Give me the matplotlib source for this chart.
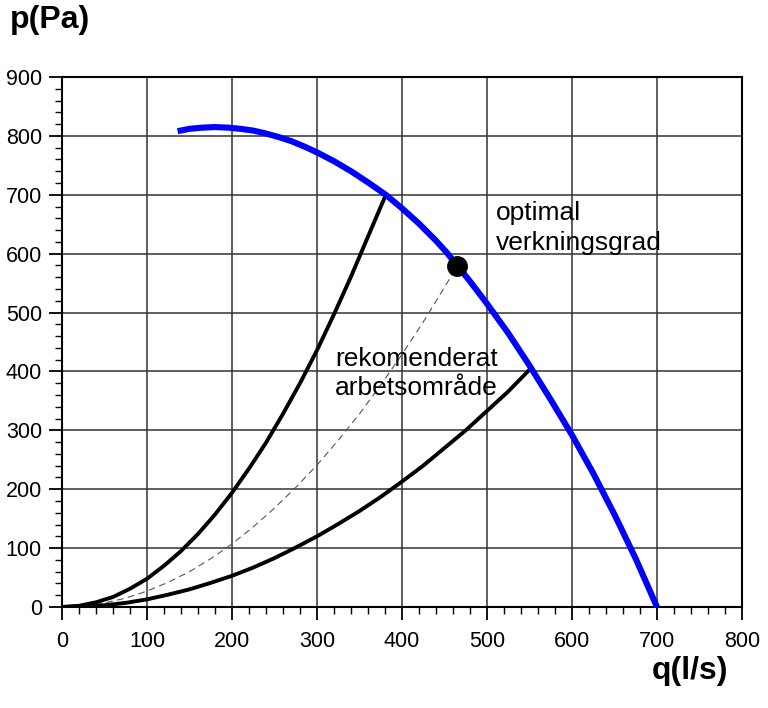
import numpy as np
from matplotlib import pyplot as plt
from matplotlib.ticker import MultipleLocator

plt.rcParams['font.family'] = ['Liberation Sans', 'DejaVu Sans']

# fan curve (blue)
fan_q = [136, 150, 165, 180, 195, 210, 225, 240, 255, 270, 285, 300, 320, 340, 360, 381,
         400, 420, 440, 452, 465, 480, 500, 525, 550, 575, 600, 625, 650, 675, 700]
fan_p = [808, 812, 814, 815, 814, 812, 809, 804, 798, 791, 782, 772, 757, 740, 721, 700,
         677, 651, 622, 603, 580, 553, 515, 465, 410, 352, 292, 227, 157, 82, 0]

# upper limit of recommended area
up_q = [0, 20, 40, 60, 80, 100, 120, 140, 160, 180, 200, 220, 240, 260, 280, 300, 320, 340, 360, 381]
up_p = [0, 2, 8, 17, 31, 48, 70, 95, 124, 157, 194, 235, 279, 328, 380, 436, 497, 561, 629, 700]

# lower limit of recommended area
low_q = [0, 25, 50, 75, 100, 125, 150, 175, 200, 225, 250, 275, 300, 325, 350, 375, 400,
         425, 450, 475, 500, 525, 550]
low_p = [0, 1, 3, 7, 13, 21, 30, 41, 53, 67, 83, 101, 120, 141, 163, 187, 213,
         240, 270, 300, 333, 366, 403]

# system curve through the optimum (dashed)
opt_q = [0, 25, 50, 75, 100, 125, 150, 175, 200, 225, 250, 275, 300, 325, 350, 375, 400, 425, 450, 465]
opt_p = [0, 2, 7, 15, 27, 42, 60, 82, 107, 136, 168, 203, 241, 283, 328, 377, 429, 484, 543, 579]

best_q, best_p = 465, 579

fig = plt.figure(figsize=(7.68, 7.08), dpi=100)
ax = fig.add_axes([62/768, 1-607/708, 680/768, 530/708])

ax.plot(opt_q, opt_p, color='#555555', lw=0.8, ls=(0, (6, 4)), zorder=3)
ax.plot(up_q, up_p, color='black', lw=2.8, zorder=4)
ax.plot(low_q, low_p, color='black', lw=2.8, zorder=4)
ax.plot(fan_q, fan_p, color='#0000ff', lw=4.4, solid_capstyle='butt', zorder=5)
ax.plot(best_q, best_p, 'o', color='black', ms=14, zorder=6)

ax.text(510, 689, 'optimal\nverkningsgrad', fontsize=19, va='top', ha='left', linespacing=1.3)
ax.text(321, 442, 'rekomenderat\narbetsområde', fontsize=19, va='top', ha='left', linespacing=1.3)

ax.set_xlim(0, 800)
ax.set_ylim(0, 900)
ax.xaxis.set_major_locator(MultipleLocator(100))
ax.xaxis.set_minor_locator(MultipleLocator(20))
ax.yaxis.set_major_locator(MultipleLocator(100))
ax.yaxis.set_minor_locator(MultipleLocator(20))
ax.grid(True, which='major', color='#333333', lw=1.1)
ax.tick_params(which='major', length=9.5, width=1.3, labelsize=15.5, pad=5)
ax.tick_params(which='minor', length=5, width=1.0)
ax.tick_params(axis='x', pad=8)
for s in ax.spines.values():
    s.set_linewidth(1.5)

fig.text(10/768, 1-5/708, 'p(Pa)', fontsize=23, fontweight='bold', va='top', ha='left')
fig.text(728/768, 1-656/708, 'q(l/s)', fontsize=23, fontweight='bold', va='top', ha='right')

fig.savefig('out.png', dpi=100)
